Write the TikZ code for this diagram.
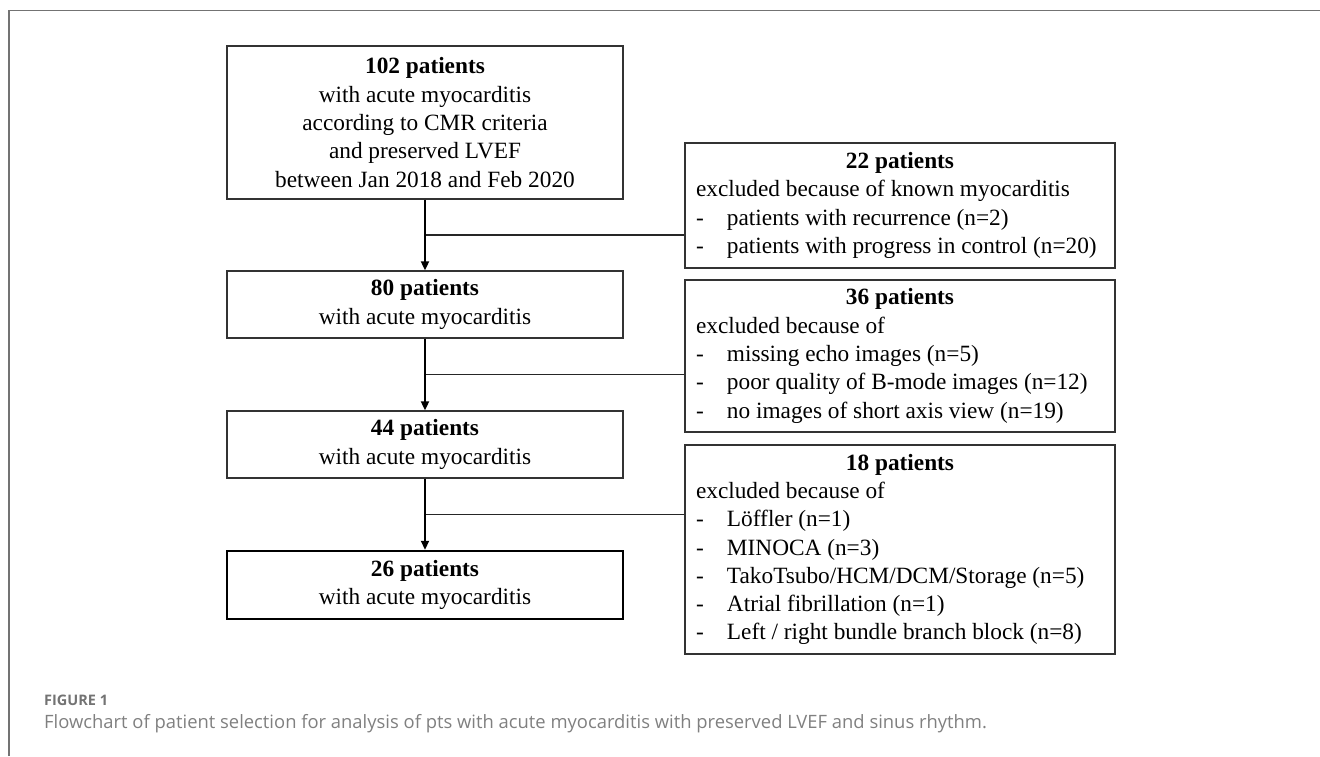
\documentclass[tikz,border=0pt]{standalone}
\usepackage{fontspec}
\setmainfont{Liberation Serif}
\newfontfamily\capfont{Open Sans}
\usetikzlibrary{arrows.meta,calc}
\newcommand\dashitem[1]{\makebox[31pt][l]{-}#1}
\newcommand\rhead[1]{\makebox[408pt][c]{\textbf{#1}}}
\begin{document}
\begin{tikzpicture}[x=1pt,y=-1pt,
  boxfont/.style={font=\fontsize{23.3pt}{28.3pt}\selectfont},
  lbox/.style={boxfont, draw=black!80, line width=1.3pt, minimum width=396pt, align=center, inner sep=0pt},
  finalbox/.style={lbox, draw=black, line width=2.4pt},
  rbox/.style={boxfont, draw=black!80, line width=1.3pt, minimum width=430pt, inner xsep=11pt, inner ysep=0pt, align=left},
  flow/.style={line width=1.8pt, -{Triangle[length=9pt,width=8pt]}},
  branch/.style={line width=1.2pt, draw=black!85},
  frame/.style={line width=1.1pt, draw=black!55},
  capfig/.style={font=\capfont\bfseries\fontsize{14.5pt}{17pt}\selectfont, text=black!55, anchor=base west, inner sep=0pt},
  captext/.style={font=\capfont\fontsize{18.4pt}{22pt}\selectfont, text=black!50, anchor=base west, inner sep=0pt}]
\useasboundingbox (0,0) rectangle (1320,756);
\draw[frame] (9,756) -- (9,10.7) -- (1320,10.7);

\node[lbox, minimum height=153pt] (b1) at (425,122.5) {\textbf{102 patients}\\with acute myocarditis\\according to CMR criteria\\and preserved LVEF\\between Jan 2018 and Feb 2020};
\node[lbox, minimum height=67pt] (b2) at (425,304.5) {\textbf{80 patients}\\with acute myocarditis};
\node[lbox, minimum height=67pt] (b3) at (425,444.5) {\textbf{44 patients}\\with acute myocarditis};
\node[finalbox, minimum height=68pt] (b4) at (425,585) {\textbf{26 patients}\\with acute myocarditis};

\node[rbox, minimum height=125pt] (r1) at (900,205.5) {\rhead{22 patients}\\excluded because of known myocarditis\\\dashitem{patients with recurrence (n=2)}\\\dashitem{patients with progress in control (n=20)}};
\node[rbox, minimum height=152pt] (r2) at (900,356) {\rhead{36 patients}\\excluded because of\\\dashitem{missing echo images (n=5)}\\\dashitem{poor quality of B-mode images (n=12)}\\\dashitem{no images of short axis view (n=19)}};
\node[rbox, minimum height=209pt] (r3) at (900,549.5) {\rhead{18 patients}\\excluded because of\\\dashitem{Löffler (n=1)}\\\dashitem{MINOCA (n=3)}\\\dashitem{TakoTsubo/HCM/DCM/Storage (n=5)}\\\dashitem{Atrial fibrillation (n=1)}\\\dashitem{Left / right bundle branch block (n=8)}};

\coordinate (j1) at ($(b1.south)!0.5!(b2.north)$);
\coordinate (j2) at ($(b2.south)!0.5!(b3.north)$);
\coordinate (j3) at ($(b3.south)!0.5!(b4.north)$);

\draw[branch] (j1) -- (j1 -| r1.west);
\draw[branch] (j2) -- (j2 -| r2.west);
\draw[branch] (j3) -- (j3 -| r3.west);
\draw[flow] (b1) -- (b2);
\draw[flow] (b2) -- (b3);
\draw[flow] (b3) -- (b4);

\node[capfig] (figlabel) at (44,705.5) {FIGURE 1};
\node[captext] (caption) at (44,728) {Flowchart of patient selection for analysis of pts with acute myocarditis with preserved LVEF and sinus rhythm.};
\end{tikzpicture}
\end{document}
